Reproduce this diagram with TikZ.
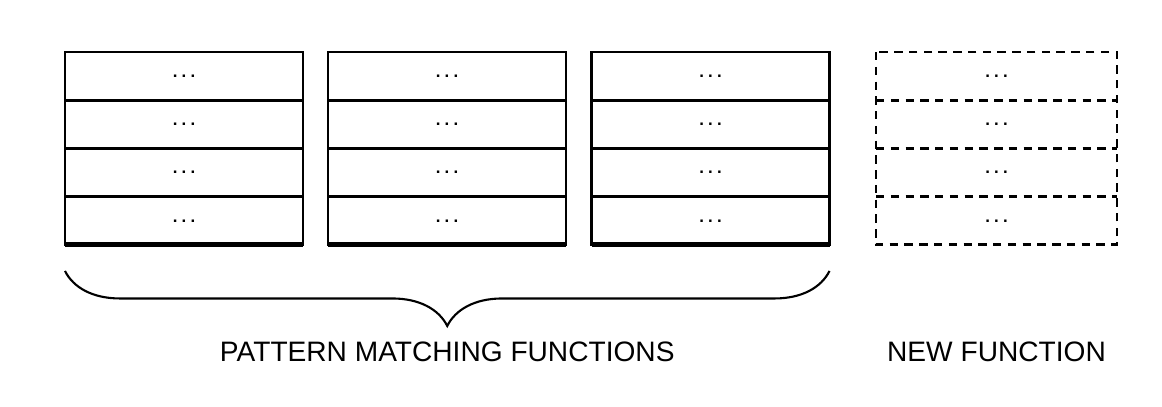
\documentclass[tikz,border=0pt]{standalone}
\usepackage{fontspec}
\setmainfont{Liberation Sans}
\usetikzlibrary{positioning,decorations.pathreplacing}

\newcommand{\rowdots}{.\hspace{3pt}.\hspace{3pt}.}

\tikzset{
  slot/.style={minimum width=5.95cm, minimum height=1.206cm,
    inner sep=0pt, outer sep=0pt, font=\large\bfseries},
  solidslot/.style={slot, draw, line width=2.1pt},
  newslot/.style={slot, minimum width=6.025cm},
  dashes/.style={line width=2.1pt, dash pattern=on 6pt off 4.5pt},
  caption/.style={font=\fontsize{20}{24}\selectfont}
}

\begin{document}
\begin{tikzpicture}
    \useasboundingbox (0,0) rectangle (29.05,-10.15);

    % Pattern matching functions
    \foreach \b/\x in {a/4.6, b/11.175, c/17.7625} {
      \node[solidslot] (\b1) at (\x,-1.903) {\rowdots};
      \foreach \r [remember=\r as \p (initially 1)] in {2,3,4}
        \node[solidslot, below=0pt of \b\p] (\b\r) {\rowdots};
      \draw[line width=3.6pt] (\b4.south west) -- (\b4.south east);
    }

    % New function
    \node[newslot] (n1) at (24.9125,-1.903) {\rowdots};
    \foreach \r [remember=\r as \p (initially 1)] in {2,3,4}
      \node[newslot, below=0pt of n\p] (n\r) {\rowdots};
    \draw[dashes] (n1.north west) rectangle (n4.south east);
    \foreach \r in {1,2,3}
      \draw[dashes] (n\r.south west) -- (n\r.south east);

    % Brace and labels
    \coordinate (bl) at ([yshift=-0.65cm]a4.south west);
    \coordinate (br) at ([yshift=-0.65cm]c4.south east);
    \draw[line width=1.5pt, decorate, decoration={brace, mirror, amplitude=1.375cm, aspect=0.5}]
      (bl) -- (br) coordinate[midway, yshift=-1.45cm] (tip);
    \node[caption, below=0.2cm of tip] (pm) {PATTERN MATCHING FUNCTIONS};
    \node[caption] (nf) at (n4.south |- pm) {NEW FUNCTION};
\end{tikzpicture}
\end{document}
